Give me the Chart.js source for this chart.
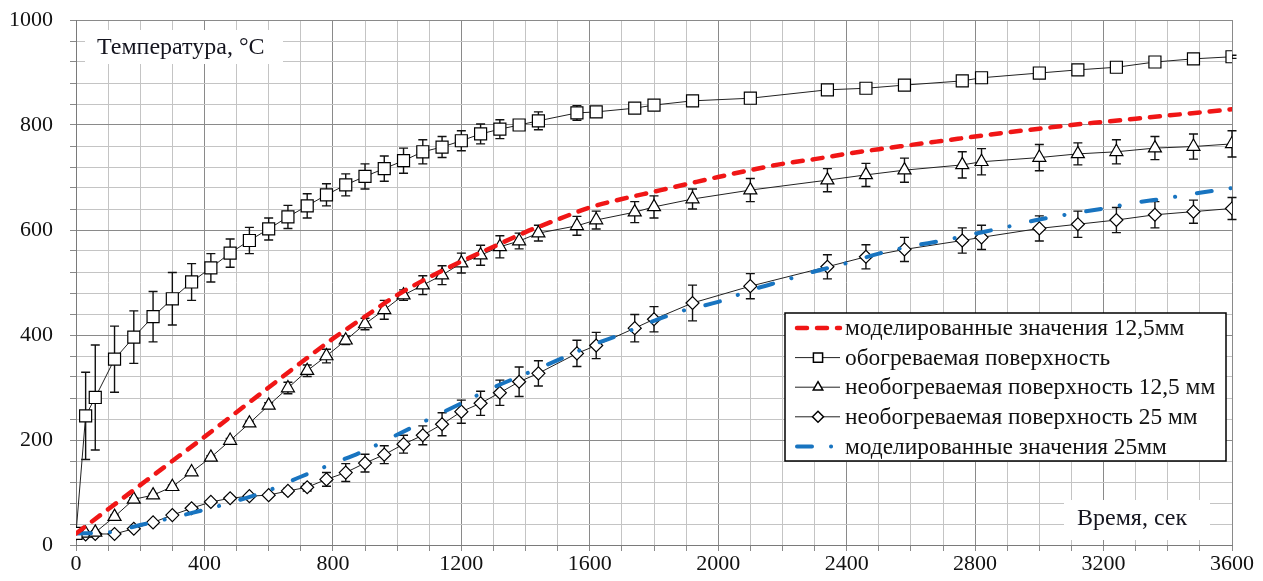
<!DOCTYPE html>
<html>
<head>
<meta charset="utf-8">
<script src="https://cdn.jsdelivr.net/npm/chart.js@4.4.0/dist/chart.umd.min.js"></script>
<style>
  html, body { margin: 0; padding: 0; background: #fff; }
  #wrap { width: 1263px; height: 581px; }
</style>
</head>
<body>
<div id="wrap"><canvas id="chart" width="1263" height="581"></canvas></div>
<script>
// measurement times, sec
const measTimes = [0, 30, 60, 120, 180, 240, 300, 360, 420, 480, 540, 600, 660, 720, 780, 840, 900, 960,
    1020, 1080, 1140, 1200, 1260, 1320, 1380, 1440, 1560, 1620, 1740, 1800, 1920, 2100, 2340, 2460, 2580,
    2760, 2820, 3000, 3120, 3240, 3360, 3480, 3600];

// heated surface
const heatedTemp = [22, 246, 281, 354, 396, 435, 469, 501, 528, 556, 580, 602, 625, 646, 667, 686, 702, 717,
    732, 749, 758, 770, 783, 792, 800, 808, 823, 825, 832, 838, 846, 851, 867, 870, 876,
    884, 890, 899, 905, 910, 920, 926, 930];
const heatedErr = [0, 83, 100, 63, 50, 48, 50, 35, 27, 27, 25, 21, 22, 23, 21, 21, 24, 24,
    24, 23, 20, 19, 19, 18, 8, 17, 14, 10, 3, 3, 3, 3, 4, 3, 3,
    3, 3, 3, 3, 5, 3, 3, 3];

// unheated surface 12,5 mm
const unheated125Temp = [22, 22, 24, 54, 87, 95, 111, 139, 167, 199, 232, 266, 299, 332, 360, 390, 421, 448,
    476, 495, 514, 537, 552, 568, 579, 594, 608, 619, 634, 644, 659, 676, 695, 705, 714,
    724, 730, 738, 745, 749, 756, 759, 764];
const unheated125Err = [0, 2, 2, 3, 3, 3, 3, 3, 3, 4, 4, 5, 11, 11, 13, 8, 11, 18,
    10, 18, 18, 19, 19, 21, 15, 15, 18, 17, 20, 21, 19, 22, 22, 22, 23,
    25, 25, 25, 21, 23, 22, 24, 25];

// unheated surface 25 mm
const unheated25Temp = [22, 20, 21, 21, 31, 43, 57, 70, 82, 89, 93, 95, 103, 110, 125, 138, 156, 172,
    192, 209, 230, 254, 270, 290, 311, 327, 365, 380, 413, 430, 461, 493, 530, 549, 563,
    580, 586, 603, 611, 619, 629, 635, 641];
const unheated25Err = [0, 2, 2, 2, 2, 2, 2, 3, 3, 3, 3, 3, 5, 7, 13, 17, 17, 17,
    17, 18, 22, 22, 23, 24, 28, 24, 25, 25, 26, 24, 34, 24, 23, 23, 23,
    24, 23, 24, 25, 24, 25, 22, 21];

// model curves
const modelTimes = [0, 100, 200, 300, 400, 500, 600, 700, 800, 900, 1000, 1100, 1200, 1300, 1400, 1500,
    1600, 1700, 1800, 1900, 2000, 2100, 2200, 2300, 2400, 2500, 2600, 2700, 2800, 2900, 3000,
    3100, 3200, 3300, 3400, 3500, 3600];
const model125Temp = [22, 68, 114, 160, 206, 253, 300, 347, 393, 435, 476, 510, 540, 568, 596, 620,
    643, 659, 673, 687, 701, 714, 726, 735, 745, 754, 762, 770, 778, 786, 793,
    800, 806, 812, 818, 824, 830];
const model25Temp = [22, 24, 38, 52, 67, 84, 104, 130, 155, 180, 210, 240, 270, 300, 326, 352,
    379, 402, 427, 448, 463, 485, 503, 521, 537, 555, 569, 580, 593, 606, 620,
    631, 641, 652, 661, 671, 680];

const legendLabels = [
    'моделированные значения 12,5мм',
    'обогреваемая поверхность',
    'необогреваемая поверхность 12,5 мм',
    'необогреваемая поверхность 25 мм',
    'моделированные значения 25мм'
];
const yTitle = 'Температура, °C';
const xTitle = 'Время, сек';

const FONT = "'Liberation Serif', 'Times New Roman', serif";
const RED = 'rgb(240, 22, 22)';
const BLUE = 'rgb(24, 116, 192)';
const RED_DASH = [10, 10];
const BLUE_DASH = [15, 19, 0.1, 22];

function pts(xs, ys) {
    return xs.map((x, i) => ({ x: x, y: ys[i] }));
}

function gridColor(step) {
    return ctx => (ctx.tick && ctx.tick.value % step === 0) ? '#8a8a8a' : '#c4c4c4';
}

// error bars under the markers
const errorBars = {
    id: 'errorBars',
    beforeDatasetsDraw(chart) {
        const { ctx, scales: { x, y } } = chart;
        ctx.save();
        ctx.strokeStyle = '#111';
        ctx.lineWidth = 1.4;
        chart.data.datasets.forEach(ds => {
            if (!ds.errors) return;
            ds.data.forEach((p, i) => {
                const e = ds.errors[i];
                if (!e) return;
                const px = x.getPixelForValue(p.x);
                const top = y.getPixelForValue(p.y + e);
                const bot = y.getPixelForValue(p.y - e);
                ctx.beginPath();
                ctx.moveTo(px, top); ctx.lineTo(px, bot);
                ctx.moveTo(px - 4.5, top); ctx.lineTo(px + 4.5, top);
                ctx.moveTo(px - 4.5, bot); ctx.lineTo(px + 4.5, bot);
                ctx.stroke();
            });
        });
        ctx.restore();
    }
};

// axis titles sitting inside the plot on white patches
const axisTitles = {
    id: 'axisTitles',
    beforeDatasetsDraw(chart) {
        const ctx = chart.ctx;
        ctx.save();
        ctx.fillStyle = '#fff';
        ctx.fillRect(85, 30, 198, 34);
        ctx.fillRect(1064, 500, 146, 40);
        ctx.fillStyle = '#15151f';
        ctx.font = '24px ' + FONT;
        ctx.textBaseline = 'middle';
        ctx.textAlign = 'left';
        ctx.fillText(yTitle, 97, 48);
        ctx.fillText(xTitle, 1077, 519);
        ctx.restore();
    }
};

// boxed legend inside the plot
const boxLegend = {
    id: 'boxLegend',
    afterDraw(chart) {
        const ctx = chart.ctx;
        const order = [3, 0, 1, 2, 4];
        ctx.save();
        ctx.fillStyle = '#fff';
        ctx.fillRect(785, 313, 441, 148);
        ctx.strokeStyle = '#000';
        ctx.lineWidth = 1.5;
        ctx.strokeRect(785, 313, 441, 148);
        order.forEach((di, row) => {
            const ds = chart.data.datasets[di];
            const cy = 328 + row * 29.6;
            ctx.save();
            ctx.strokeStyle = ds.borderColor;
            ctx.lineWidth = ds.borderWidth;
            ctx.lineCap = ds.borderCapStyle || 'butt';
            ctx.setLineDash(ds.borderDash || []);
            ctx.beginPath();
            ctx.moveTo(ds.borderDash ? 797 : 795, cy);
            ctx.lineTo(840, cy);
            ctx.stroke();
            ctx.restore();
            if (ds.pointRadius > 0) {
                ctx.save();
                ctx.fillStyle = '#fff';
                ctx.strokeStyle = '#000';
                Chart.helpers.drawPoint(ctx, {
                    pointStyle: ds.pointStyle,
                    radius: ds.pointStyle === 'rect' ? 6.5 : 5.5,
                    rotation: 0,
                    borderWidth: 1.2
                }, 818, cy);
                ctx.restore();
            }
            ctx.fillStyle = '#111';
            ctx.font = '23.4px ' + FONT;
            ctx.textBaseline = 'middle';
            ctx.fillText(legendLabels[row], 845, cy + 1);
        });
        ctx.restore();
    }
};

const measStyle = {
    borderColor: '#222',
    borderWidth: 1,
    backgroundColor: '#fff',
    pointBackgroundColor: '#fff',
    pointBorderColor: '#000',
    pointBorderWidth: 1.2,
    tension: 0,
    order: 1
};

new Chart(document.getElementById('chart'), {
    type: 'line',
    data: {
        datasets: [
            Object.assign({}, measStyle, {
                label: legendLabels[1],
                data: pts(measTimes, heatedTemp),
                errors: heatedErr,
                pointStyle: 'rect',
                pointRadius: 8.5
            }),
            Object.assign({}, measStyle, {
                label: legendLabels[2],
                data: pts(measTimes, unheated125Temp),
                errors: unheated125Err,
                pointStyle: 'triangle',
                pointRadius: 7.5
            }),
            Object.assign({}, measStyle, {
                label: legendLabels[3],
                data: pts(measTimes, unheated25Temp),
                errors: unheated25Err,
                pointStyle: 'rectRot',
                pointRadius: 6.5
            }),
            {
                label: legendLabels[0],
                data: pts(modelTimes, model125Temp),
                borderColor: RED,
                borderWidth: 4.5,
                borderDash: RED_DASH,
                borderCapStyle: 'round',
                pointRadius: 0,
                cubicInterpolationMode: 'monotone',
                order: 0
            },
            {
                label: legendLabels[4],
                data: pts(modelTimes, model25Temp),
                borderColor: BLUE,
                borderWidth: 4,
                borderDash: BLUE_DASH,
                borderCapStyle: 'round',
                pointRadius: 0,
                cubicInterpolationMode: 'monotone',
                order: 0
            }
        ]
    },
    options: {
        responsive: false,
        animation: false,
        events: [],
        layout: { padding: { top: 20, right: 31, left: 0, bottom: 0 } },
        plugins: {
            legend: { display: false },
            tooltip: { enabled: false }
        },
        scales: {
            x: {
                type: 'linear',
                min: 0,
                max: 3600,
                afterFit: s => { s.height = 36; s.paddingLeft = 0; s.paddingRight = 0; },
                ticks: {
                    stepSize: 100,
                    autoSkip: false,
                    maxRotation: 0,
                    padding: 0,
                    color: '#111',
                    font: { family: FONT, size: 22 },
                    callback: v => v % 400 === 0 ? v : ''
                },
                grid: { color: gridColor(400), tickColor: '#8a8a8a', tickLength: 6, lineWidth: 1 },
                border: { color: '#7a7a7a', width: 1 }
            },
            y: {
                min: 0,
                max: 1000,
                afterFit: s => { s.width = 76; s.paddingTop = 0; s.paddingBottom = 0; },
                ticks: {
                    stepSize: 40,
                    autoSkip: false,
                    padding: 17,
                    color: '#111',
                    font: { family: FONT, size: 22 },
                    callback: v => v % 200 === 0 ? v : ''
                },
                grid: { color: gridColor(200), tickColor: '#8a8a8a', tickLength: 6, lineWidth: 1 },
                border: { color: '#7a7a7a', width: 1 }
            }
        }
    },
    plugins: [errorBars, axisTitles, boxLegend]
});
</script>
</body>
</html>
